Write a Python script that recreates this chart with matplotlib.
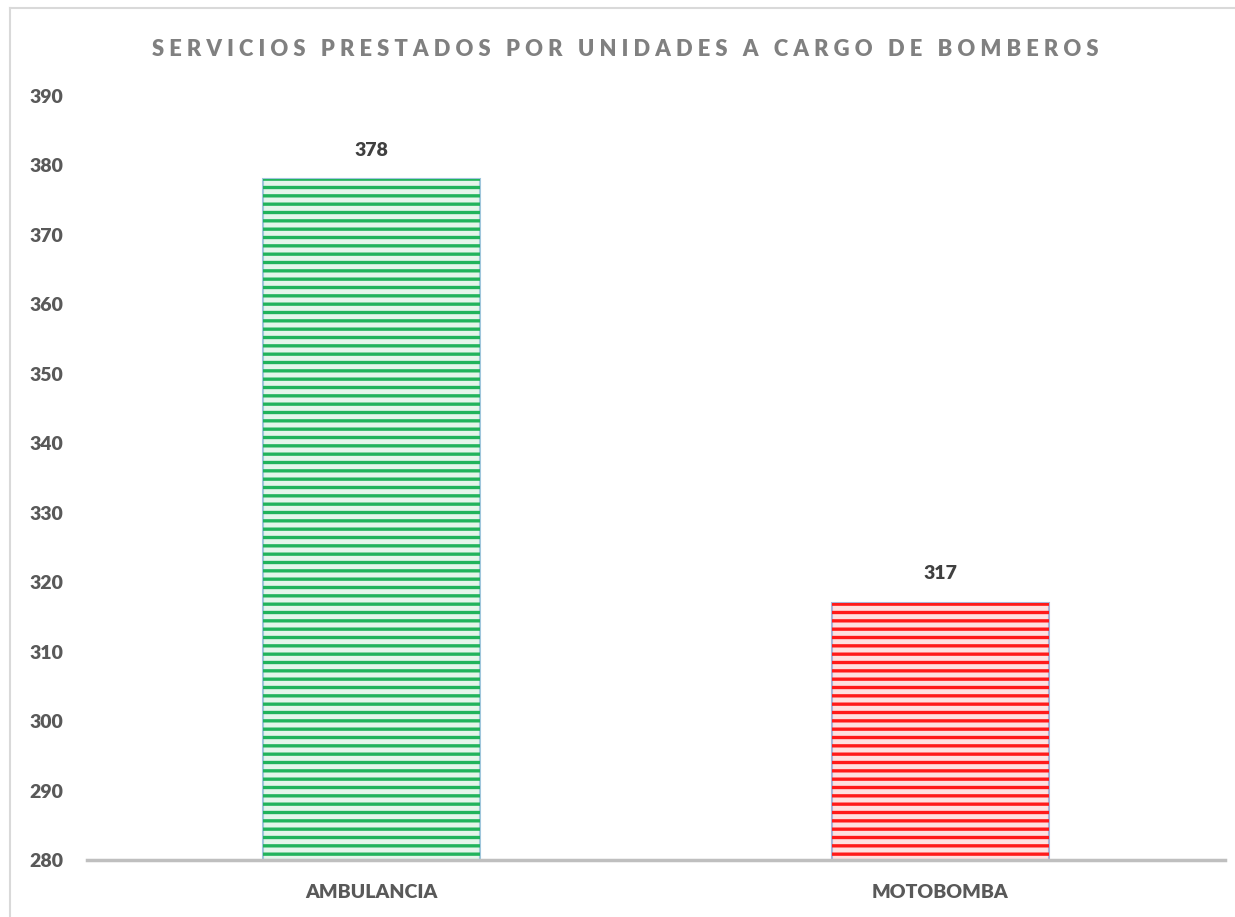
import matplotlib.pyplot as plt
from matplotlib.lines import Line2D

# chart data
categories = ["AMBULANCIA", "MOTOBOMBA"]
services = [378, 317]
stripe_colors = ["#21b35c", "#ff1a1a"]
base_colors = ["#e4f5ea", "#ffe0e0"]
side_colors = ["#9fc6dc", "#a9b4d8"]
y_ticks = list(range(280, 400, 10))

plt.rcParams["font.family"] = ["Lato", "DejaVu Sans"]
plt.rcParams["hatch.linewidth"] = 2.4

fig = plt.figure(figsize=(12.35, 9.17), dpi=100)
ax = fig.add_axes([0.0704, 0.0622, 0.9215, 0.8331])

x = range(len(categories))
# solid pale base, then dense horizontal stripes on top
ax.bar(x, [v - 280 for v in services], bottom=280, width=0.38,
       color=base_colors, edgecolor=side_colors, linewidth=1.5, zorder=2)
ax.bar(x, [v - 280 for v in services], bottom=280, width=0.38,
       facecolor="none", edgecolor=stripe_colors, linewidth=0, hatch="--", zorder=3)

for i, v in enumerate(services):
    ax.text(i, v + 3.0, str(v), ha="center", va="bottom", fontsize=14,
            fontweight="heavy", color="#404040")

ax.set_xlim(-0.5, 1.5)
ax.set_ylim(280, 390)
ax.set_yticks(y_ticks)
ax.set_xticks(list(x))
ax.set_xticklabels(categories)
ax.tick_params(axis="both", length=0, labelsize=14, colors="#595959")
ax.tick_params(axis="y", pad=17)
ax.tick_params(axis="x", pad=17)
for lab in ax.get_xticklabels() + ax.get_yticklabels():
    lab.set_fontweight("heavy")

for side in ["top", "right", "left"]:
    ax.spines[side].set_visible(False)
ax.spines["bottom"].set_color("#bfbfbf")
ax.spines["bottom"].set_linewidth(2.5)

title = "S E R V I C I O S   P R E S T A D O S   P O R   U N I D A D E S   A   C A R G O   D E   B O M B E R O S"
fig.text(0.506, 0.946, title, ha="center", va="center", fontsize=15.8,
         fontweight="heavy", color="#808080")

# outer chart border (top and left only are visible)
fig.add_artist(Line2D([0.008, 1.0], [0.991, 0.991], color="#d9d9d9", linewidth=1.5))
fig.add_artist(Line2D([0.008, 0.008], [0.0, 0.991], color="#d9d9d9", linewidth=1.5))

fig.savefig("out.png", dpi=100)
